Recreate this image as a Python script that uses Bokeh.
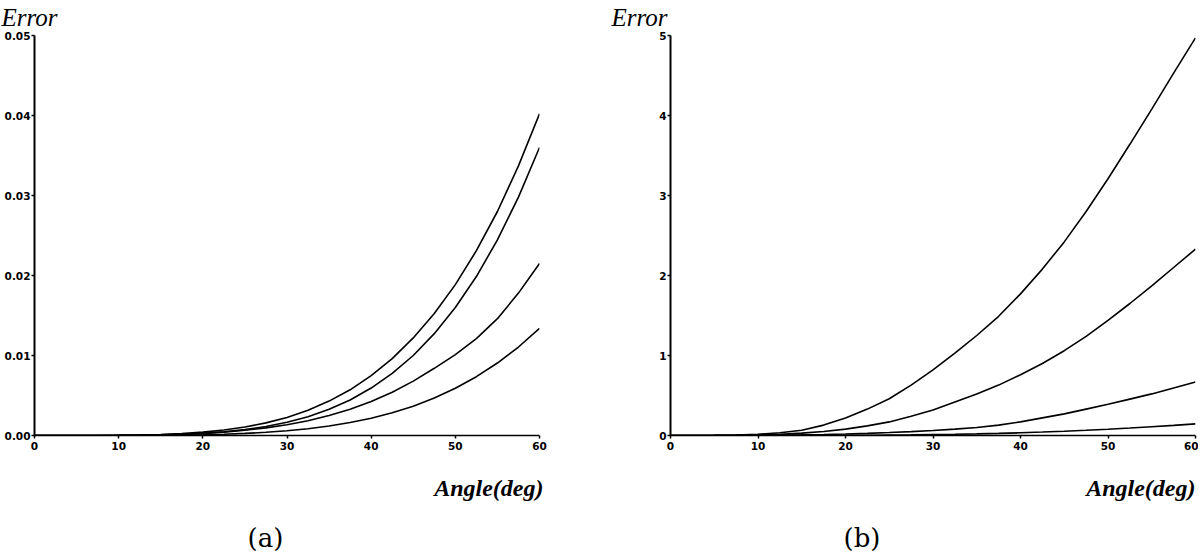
from bokeh.plotting import figure
from bokeh.layouts import row
from bokeh.models import Title, FixedTicker, PrintfTickFormatter, Range1d
from bokeh.embed import file_html
from bokeh.resources import INLINE

# ---------------- data ----------------
ANGLES = [0, 2.5, 5, 7.5, 10, 12.5, 15, 17.5, 20, 22.5, 25, 27.5, 30,
          32.5, 35, 37.5, 40, 42.5, 45, 47.5, 50, 52.5, 55, 57.5, 60]

# panel (a) errors
A_S1 = [0.0, 0.0, 0.000001, 0.000007, 0.00003, 0.00006, 0.000128, 0.00024, 0.00042, 0.00069,
        0.00106, 0.00158, 0.00226, 0.00316, 0.0043, 0.00571, 0.00748, 0.00961, 0.0122,
        0.01525, 0.01886, 0.0231, 0.028, 0.0337, 0.0402]
A_S2 = [0.0, 0.0, 0.0, 0.000003, 0.000012, 0.000034, 0.000075, 0.00015, 0.00027, 0.00046,
        0.00073, 0.00112, 0.00165, 0.00235, 0.00327, 0.00444, 0.00593, 0.00776, 0.0100,
        0.01273, 0.0160, 0.01987, 0.02445, 0.0298, 0.0360]
A_S3 = [0.0, 0.0, 0.000001, 0.000005, 0.000017, 0.00004, 0.000084, 0.000156, 0.000265, 0.000425,
        0.000648, 0.00095, 0.00134, 0.00185, 0.00249, 0.00328, 0.00425, 0.00541, 0.0068,
        0.0084, 0.0101, 0.0121, 0.0146, 0.0178, 0.0215]
A_S4 = [0.0, 0.0, 0.0, 0.000001, 0.000004, 0.000012, 0.000026, 0.000052, 0.000096, 0.00016,
        0.00026, 0.0004, 0.00059, 0.00085, 0.00118, 0.00162, 0.00216, 0.00284, 0.00367,
        0.00468, 0.0059, 0.00735, 0.00906, 0.01106, 0.0134]

# panel (b) errors
B_S1 = [0.0, 0.0, 0.002, 0.006, 0.015, 0.035, 0.065, 0.13, 0.22, 0.33, 0.46, 0.63, 0.82,
        1.03, 1.25, 1.49, 1.77, 2.08, 2.42, 2.80, 3.21, 3.64, 4.08, 4.53, 4.97]
B_S2 = [0.0, 0.0, 0.001, 0.003, 0.008, 0.016, 0.03, 0.05, 0.08, 0.12, 0.17, 0.24, 0.32,
        0.42, 0.52, 0.63, 0.76, 0.90, 1.06, 1.24, 1.44, 1.65, 1.87, 2.10, 2.33]
B_S3 = [0.0, 0.0, 0.0, 0.001, 0.003, 0.005, 0.008, 0.013, 0.019, 0.027, 0.037, 0.048, 0.062,
        0.08, 0.10, 0.13, 0.17, 0.22, 0.27, 0.33, 0.39, 0.455, 0.52, 0.595, 0.67]
B_S4 = [0.0, 0.0, 0.0, 0.0, 0.0005, 0.001, 0.0015, 0.002, 0.003, 0.004, 0.006, 0.008, 0.011,
        0.015, 0.02, 0.026, 0.034, 0.043, 0.053, 0.065, 0.078, 0.093, 0.11, 0.127, 0.145]

X_TICKS = [0, 10, 20, 30, 40, 50, 60]
A_Y_TICKS = [0.0, 0.01, 0.02, 0.03, 0.04, 0.05]
B_Y_TICKS = [0, 1, 2, 3, 4, 5]

SERIF = "Liberation Serif"
TICK_FONT = "DejaVu Sans"


def make_panel(series, ymax, yticks, yfmt, width, bl, br, err_dx, tag, tag_dx, angle_dx):
    p = figure(width=width, height=552, output_backend="svg", toolbar_location=None,
               x_range=Range1d(0, 60), y_range=Range1d(0, ymax),
               min_border_left=bl, min_border_right=br, min_border_top=0,
               min_border_bottom=0)
    p.outline_line_color = None
    p.grid.visible = False
    p.background_fill_color = "white"
    p.border_fill_color = "white"

    for ys in series:
        p.line(ANGLES, ys, line_color="black", line_width=1.6)

    for ax in (p.xaxis[0], p.yaxis[0]):
        ax.axis_line_color = "black"
        ax.major_tick_line_color = "black"
        ax.major_tick_line_width = 1.5
        ax.major_tick_out = 3
        ax.major_tick_in = 0
        ax.minor_tick_line_color = None
        ax.major_label_text_font = TICK_FONT
        ax.major_label_text_font_style = "bold"
        ax.major_label_text_font_size = "10.5px"
        ax.major_label_text_color = "black"
    p.yaxis[0].axis_line_width = 2
    p.xaxis[0].axis_line_width = 1.5
    p.xaxis[0].ticker = FixedTicker(ticks=X_TICKS)
    p.xaxis[0].formatter = PrintfTickFormatter(format="%d")
    p.xaxis[0].major_label_standoff = 3
    p.yaxis[0].ticker = FixedTicker(ticks=yticks)
    p.yaxis[0].formatter = PrintfTickFormatter(format=yfmt)
    p.yaxis[0].major_label_standoff = 1

    p.add_layout(Title(text="Error", align="left", offset=err_dx, standoff=6,
                       vertical_align="top",
                       text_font=SERIF, text_font_style="italic", text_font_size="25px",
                       text_color="black"), "above")
    p.add_layout(Title(text="Angle(deg)", align="right", offset=angle_dx, standoff=40,
                       text_font=SERIF, text_font_style="bold italic", text_font_size="24px",
                       text_color="black"), "below")
    p.add_layout(Title(text=tag, align="left", offset=tag_dx, standoff=0,
                       text_font="DejaVu Serif", text_font_style="normal", text_font_size="26px",
                       text_color="black"), "below")
    return p


pa = make_panel([A_S1, A_S2, A_S3, A_S4], 0.05, A_Y_TICKS, "%.2f",
                600, 34, 61, -33, "(a)", 213, -4)
pb = make_panel([B_S1, B_S2, B_S3, B_S4], 5, B_Y_TICKS, "%d",
                598, 70, 3, -59, "(b)", 173, 0)

layout = row(pa, pb)
open("out.html", "w").write(file_html(layout, INLINE))
